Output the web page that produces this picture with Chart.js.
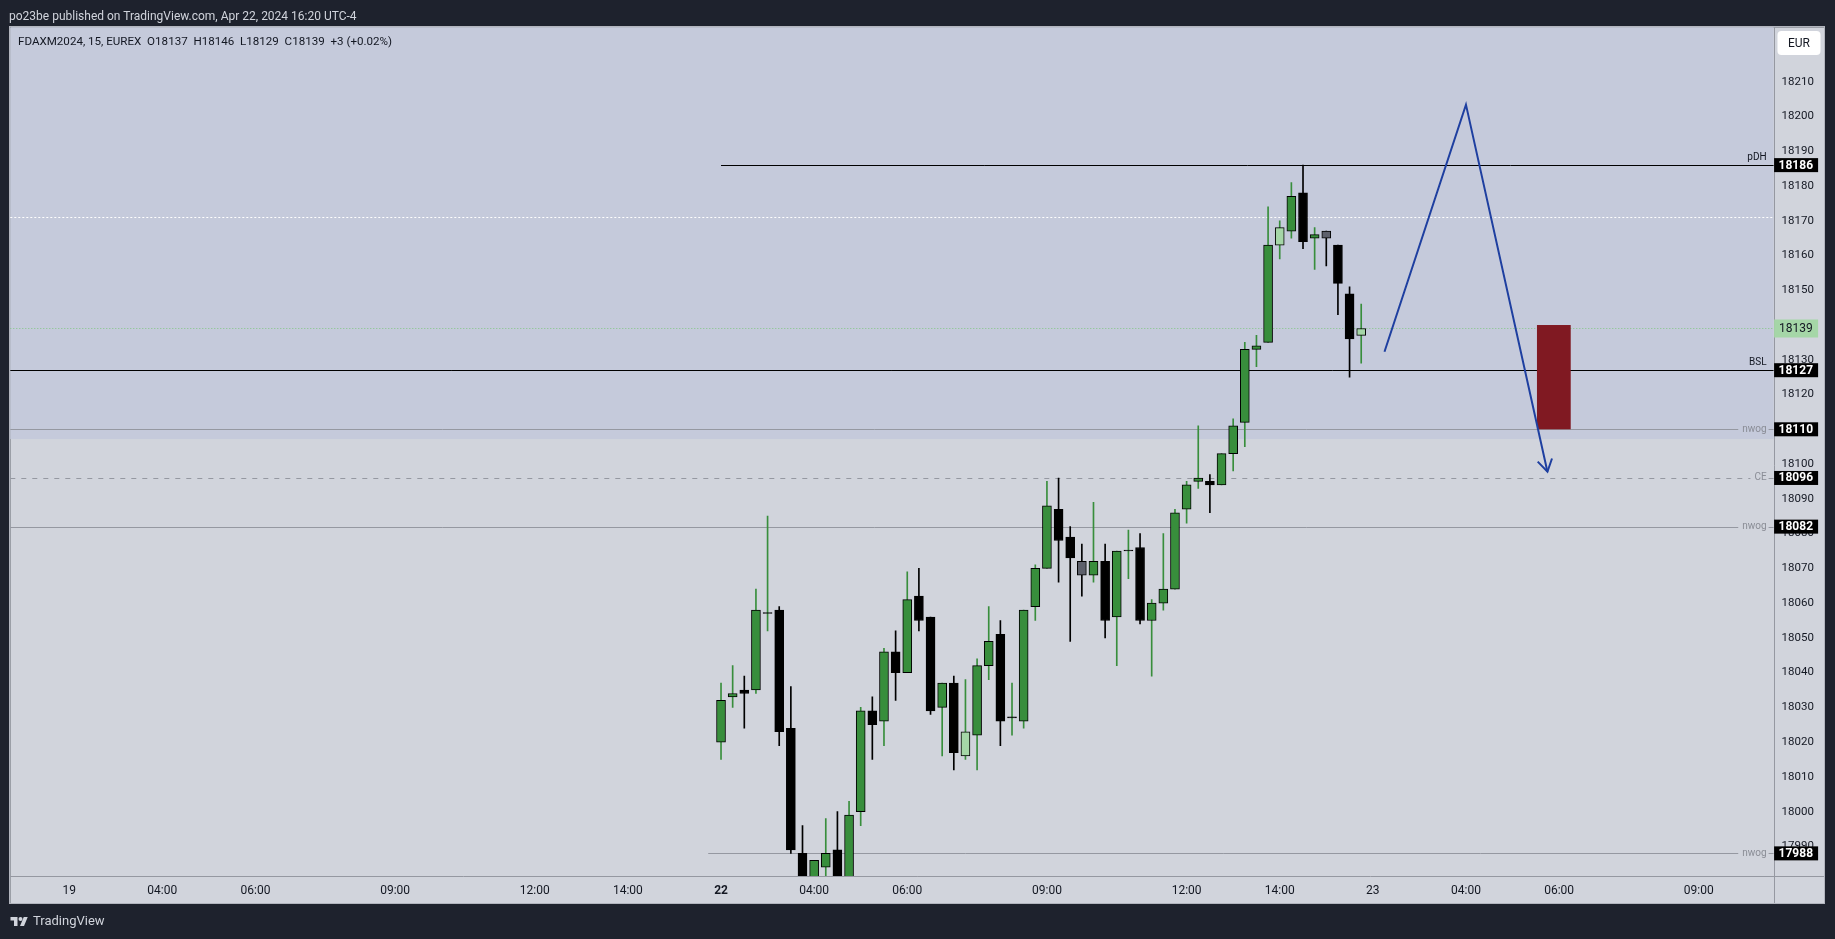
<!DOCTYPE html>
<html lang="en">
<head>
<meta charset="UTF-8">
<title>FDAXM2024, 15, EUREX</title>
<script src="https://cdn.jsdelivr.net/npm/chart.js"></script>
<style>
  html, body { margin: 0; padding: 0; background: #1e222d; overflow: hidden; }
  #wrap { position: relative; width: 1835px; height: 939px; }
  #chart { position: absolute; left: 0; top: 0; }
  .txt { position: absolute; font-family: Roboto, "Noto Sans", sans-serif; white-space: pre; line-height: 1; }
  #header { left: 9px; top: 10px; font-size: 12px; color: #d1d4dc; }
  #legend { left: 18px; top: 36px; font-size: 11.6px; color: #131722; }
  #footer { left: 10px; top: 914px; font-size: 13px; color: #d1d4dc; display: flex; align-items: center; gap: 4px; }
</style>
</head>
<body>
<div id="wrap">
  <canvas id="chart" width="1835" height="939"></canvas>
  <div class="txt" id="header">po23be published on TradingView.com, Apr 22, 2024 16:20 UTC-4</div>
  <div class="txt" id="legend">FDAXM2024, 15, EUREX  O18137  H18146  L18129  C18139  +3 (+0.02%)</div>
  <div class="txt" id="footer">
    <svg width="19" height="12" viewBox="0 0 36 24"><path d="M14 22H7V11H0V4h14z" fill="#d1d4dc"/><circle cx="20" cy="8" r="4" fill="#d1d4dc"/><path d="M27 22h-8l7.5-18h8z" fill="#d1d4dc"/></svg>
    <span>TradingView</span>
  </div>
</div>

<script>
  // 15 min bars of Apr 22, 02:00 - 15:45 (bar index 0 = session open)
  const opens  = [18020, 18033, 18035, 18035, 18057, 18058, 18024, 17988, 17976, 17984,
                  17989, 17978, 18000, 18029, 18026, 18046, 18040, 18062, 18056, 18030,
                  18037, 18016, 18022, 18042, 18051, 18027, 18026, 18059, 18070, 18087,
                  18079, 18072, 18068, 18072, 18056, 18075, 18076, 18055, 18060, 18064,
                  18087, 18095, 18095, 18094, 18103, 18112, 18133, 18135, 18163, 18167,
                  18178, 18165, 18167, 18163, 18149, 18137];
  const highs  = [18037, 18042, 18039, 18064, 18085, 18059, 18036, 17996, 17986, 17998,
                  18000, 18003, 18030, 18033, 18047, 18052, 18069, 18070, 18056, 18037,
                  18039, 18038, 18044, 18059, 18055, 18037, 18058, 18071, 18095, 18096,
                  18082, 18077, 18089, 18077, 18075, 18081, 18080, 18061, 18080, 18087,
                  18095, 18111, 18097, 18103, 18113, 18135, 18137, 18174, 18170, 18181,
                  18186, 18168, 18167, 18163, 18151, 18146];
  const lows   = [18015, 18030, 18024, 18034, 18052, 18019, 17988, 17968, 17970, 17978,
                  17972, 17975, 17996, 18015, 18019, 18032, 18040, 18052, 18028, 18016,
                  18012, 18015, 18012, 18038, 18019, 18022, 18024, 18055, 18070, 18066,
                  18049, 18062, 18066, 18050, 18042, 18067, 18054, 18039, 18058, 18064,
                  18083, 18093, 18086, 18094, 18098, 18105, 18128, 18135, 18159, 18165,
                  18162, 18156, 18157, 18143, 18125, 18129];
  const closes = [18032, 18034, 18034, 18058, 18057, 18023, 17989, 17975, 17986, 17988,
                  17977, 17999, 18029, 18025, 18046, 18040, 18061, 18055, 18029, 18037,
                  18017, 18023, 18042, 18049, 18026, 18027, 18058, 18070, 18088, 18078,
                  18073, 18068, 18072, 18055, 18075, 18075, 18055, 18060, 18064, 18086,
                  18094, 18096, 18094, 18103, 18111, 18133, 18134, 18163, 18168, 18177,
                  18164, 18166, 18165, 18152, 18136, 18139];
  const barIndex = opens.map((_, i) => i);

  // bars painted with an indicator colour
  const lightBars = [21, 48, 55];
  const grayBars = [31, 52];

  // time axis (bar index -> label)
  const timeTicks  = [-56, -48, -40, -28, -16, -8, 0, 8, 16, 28, 40, 48, 56, 64, 72, 84];
  const timeLabels = ['19', '04:00', '06:00', '09:00', '12:00', '14:00', '22', '04:00', '06:00',
                      '09:00', '12:00', '14:00', '23', '04:00', '06:00', '09:00'];

  // horizontal levels
  const levelPrices = [18186, 18171, 18139, 18127, 18110, 18096, 18082, 17988];
  const levelNames  = ['pDH', '', '', 'BSL', 'nwog', 'CE', 'nwog', 'nwog'];
  const levelFrom   = [0, null, null, null, null, null, null, -1.1];

  // price labels on the axis
  const axisMarks = [18186, 18127, 18110, 18096, 18082, 17988];
  const lastPrice = 18139;

  // shaded zone above this price
  const zoneBottom = 18107.2;

  // drawn path and box
  const pathX = [57, 64, 71];
  const pathY = [18132.3, 18203.4, 18097.8];
  const boxX = [70.1, 73];
  const boxY = [18110, 18140];

  const GREEN = '#388e3c';
  const LIGHT = '#a5d6a7';
  const GRAY = '#5d606b';

  function bodyColor(i) {
    if (lightBars.includes(i)) return LIGHT;
    if (grayBars.includes(i)) return GRAY;
    if (closes[i] === opens[i]) return '#000';
    return closes[i] > opens[i] ? GREEN : '#000';
  }
  function wickColor(i) {
    if (grayBars.includes(i)) return '#000';
    return closes[i] >= opens[i] ? GREEN : '#000';
  }

  const levelStyle = [
    { color: '#000000', dash: [], label: 'above' },
    { color: '#ffffff', dash: [2, 2] },
    { color: '#81c784', dash: [1, 2] },
    { color: '#000000', dash: [], label: 'above' },
    { color: '#9598a1', dash: [], label: 'inline' },
    { color: '#9598a1', dash: [5, 6], label: 'inline' },
    { color: '#9598a1', dash: [], label: 'inline' },
    { color: '#9598a1', dash: [], label: 'inline' }
  ];

  function hline(ctx, x1, x2, y, color, dash) {
    ctx.save();
    ctx.strokeStyle = color;
    ctx.lineWidth = 1;
    ctx.setLineDash(dash || []);
    ctx.beginPath();
    ctx.moveTo(x1, Math.round(y) + 0.5);
    ctx.lineTo(x2, Math.round(y) + 0.5);
    ctx.stroke();
    ctx.restore();
  }

  const tvPlugin = {
    id: 'tv',
    beforeDraw(chart) {
      const { ctx, chartArea: a, scales: { y } } = chart;
      ctx.save();
      ctx.fillStyle = '#1e222d';
      ctx.fillRect(0, 0, chart.width, chart.height);
      ctx.fillStyle = '#d1d4dc';
      ctx.fillRect(a.left, a.top, 1824 - a.left, 903.3 - a.top);
      ctx.fillStyle = '#c5cadb';
      ctx.fillRect(a.left, a.top, a.right - a.left, y.getPixelForValue(zoneBottom) - a.top);
      ctx.strokeStyle = '#9598a1';
      ctx.lineWidth = 1;
      ctx.beginPath();
      ctx.moveTo(Math.round(a.right) + 0.5, a.top);
      ctx.lineTo(Math.round(a.right) + 0.5, 903.3);
      ctx.moveTo(a.left, Math.round(a.bottom) + 0.5);
      ctx.lineTo(1824, Math.round(a.bottom) + 0.5);
      ctx.stroke();
      ctx.strokeStyle = '#b2b5be';
      ctx.strokeRect(Math.round(a.left) - 0.5, Math.round(a.top) - 0.5, 1824 - Math.round(a.left) + 1, 903 - Math.round(a.top) + 1);
      ctx.restore();
    },
    beforeDatasetsDraw(chart) {
      const { ctx, chartArea: a, scales: { x, y } } = chart;
      ctx.save();
      ctx.font = '10px Roboto, "Noto Sans", sans-serif';
      levelPrices.forEach((p, i) => {
        const s = levelStyle[i];
        const py = y.getPixelForValue(p);
        const x1 = levelFrom[i] === null ? a.left : x.getPixelForValue(levelFrom[i]);
        const name = levelNames[i];
        const right = a.right - 7;
        if (s.label === 'inline') {
          const w = ctx.measureText(name).width;
          hline(ctx, x1, right - w - 4, py, s.color, s.dash);
          hline(ctx, right + 2, a.right, py, s.color, s.dash);
          ctx.fillStyle = '#8a8d96';
          ctx.textAlign = 'right';
          ctx.textBaseline = 'middle';
          ctx.fillText(name, right, py);
        } else {
          hline(ctx, x1, a.right, py, s.color, s.dash);
          if (s.label === 'above') {
            ctx.fillStyle = '#131722';
            ctx.textAlign = 'right';
            ctx.textBaseline = 'middle';
            ctx.fillText(name, right, py - 8);
          }
        }
      });
      const bx1 = x.getPixelForValue(boxX[0]), bx2 = x.getPixelForValue(boxX[1]);
      const by1 = y.getPixelForValue(boxY[1]), by2 = y.getPixelForValue(boxY[0]);
      ctx.fillStyle = '#801922';
      ctx.fillRect(bx1, by1, bx2 - bx1, by2 - by1);
      ctx.restore();
    },
    afterDatasetsDraw(chart) {
      const meta = chart.getDatasetMeta(2);
      const pts = meta.data;
      const p1 = pts[pts.length - 2], p2 = pts[pts.length - 1];
      const ang = Math.atan2(p2.y - p1.y, p2.x - p1.x);
      const len = 14, spread = 0.55;
      const ctx = chart.ctx;
      ctx.save();
      ctx.strokeStyle = '#1e3fa0';
      ctx.lineWidth = 2;
      ctx.beginPath();
      ctx.moveTo(p2.x - len * Math.cos(ang - spread), p2.y - len * Math.sin(ang - spread));
      ctx.lineTo(p2.x, p2.y);
      ctx.lineTo(p2.x - len * Math.cos(ang + spread), p2.y - len * Math.sin(ang + spread));
      ctx.stroke();
      ctx.restore();
    },
    afterDraw(chart) {
      const { ctx, chartArea: a, scales: { y } } = chart;
      ctx.save();
      ctx.textAlign = 'center';
      ctx.textBaseline = 'middle';
      const cx = a.right + 22.2;
      axisMarks.forEach(p => {
        const py = y.getPixelForValue(p);
        ctx.fillStyle = '#000';
        ctx.fillRect(a.right + 0.5, py - 7, 44, 14);
        ctx.fillStyle = '#ffffff';
        ctx.font = 'bold 12px Roboto, "Noto Sans", sans-serif';
        ctx.fillText(String(p), cx, py + 0.5);
      });
      const lp = y.getPixelForValue(lastPrice);
      ctx.fillStyle = LIGHT;
      ctx.fillRect(a.right + 0.5, lp - 9, 44, 18);
      ctx.fillStyle = '#131722';
      ctx.font = '12px Roboto, "Noto Sans", sans-serif';
      ctx.fillText(String(lastPrice), cx, lp + 0.5);
      // currency button
      ctx.fillStyle = '#ffffff';
      ctx.beginPath();
      ctx.roundRect(1777.5, 31, 43, 24, 4);
      ctx.fill();
      ctx.fillStyle = '#131722';
      ctx.fillText('EUR', 1799, 43.5);
      ctx.restore();
    }
  };

  new Chart(document.getElementById('chart'), {
    type: 'bar',
    data: {
      datasets: [
        {
          label: 'body',
          data: barIndex.map(i => ({ x: i, y: [opens[i], closes[i]] })),
          backgroundColor: barIndex.map(bodyColor),
          borderColor: '#000',
          borderWidth: 1,
          borderSkipped: false,
          barThickness: 9,
          minBarLength: 1,
          grouped: false,
          order: 1
        },
        {
          label: 'wick',
          data: barIndex.map(i => ({ x: i, y: [lows[i], highs[i]] })),
          backgroundColor: barIndex.map(wickColor),
          borderWidth: 0,
          barThickness: 1,
          grouped: false,
          order: 2
        },
        {
          type: 'line',
          label: 'path',
          data: pathX.map((v, i) => ({ x: v, y: pathY[i] })),
          borderColor: '#1e3fa0',
          borderWidth: 2,
          pointRadius: 0,
          tension: 0,
          fill: false,
          order: 0
        }
      ]
    },
    options: {
      responsive: false,
      animation: false,
      devicePixelRatio: 1,
      layout: { padding: { left: 10.3, top: 27.3, right: 11, bottom: 35.7 } },
      plugins: {
        legend: { display: false },
        tooltip: { enabled: false }
      },
      scales: {
        x: {
          type: 'linear',
          min: -61.06,
          max: 90.43,
          offset: false,
          grid: { display: false, drawTicks: false },
          border: { display: false },
          afterBuildTicks: s => { s.ticks = timeTicks.map(v => ({ value: v })); },
          afterFit: s => { s.height = 27.3; },
          ticks: {
            autoSkip: false,
            maxRotation: 0,
            padding: 8,
            color: '#131722',
            font: c => ({ family: 'Roboto, "Noto Sans", sans-serif', size: 12,
                          weight: c.tick && c.tick.value === 0 ? 'bold' : 'normal' }),
            callback: v => timeLabels[timeTicks.indexOf(v)]
          }
        },
        y: {
          position: 'right',
          min: 17981.49,
          max: 18225.65,
          grid: { display: false, drawTicks: false },
          border: { display: false },
          afterFit: s => { s.width = 50.4; },
          ticks: {
            stepSize: 10,
            includeBounds: false,
            padding: 8,
            color: '#131722',
            font: { family: 'Roboto, "Noto Sans", sans-serif', size: 11.5 },
            callback: v => String(v)
          }
        }
      }
    },
    plugins: [tvPlugin]
  });
</script>
</body>
</html>
